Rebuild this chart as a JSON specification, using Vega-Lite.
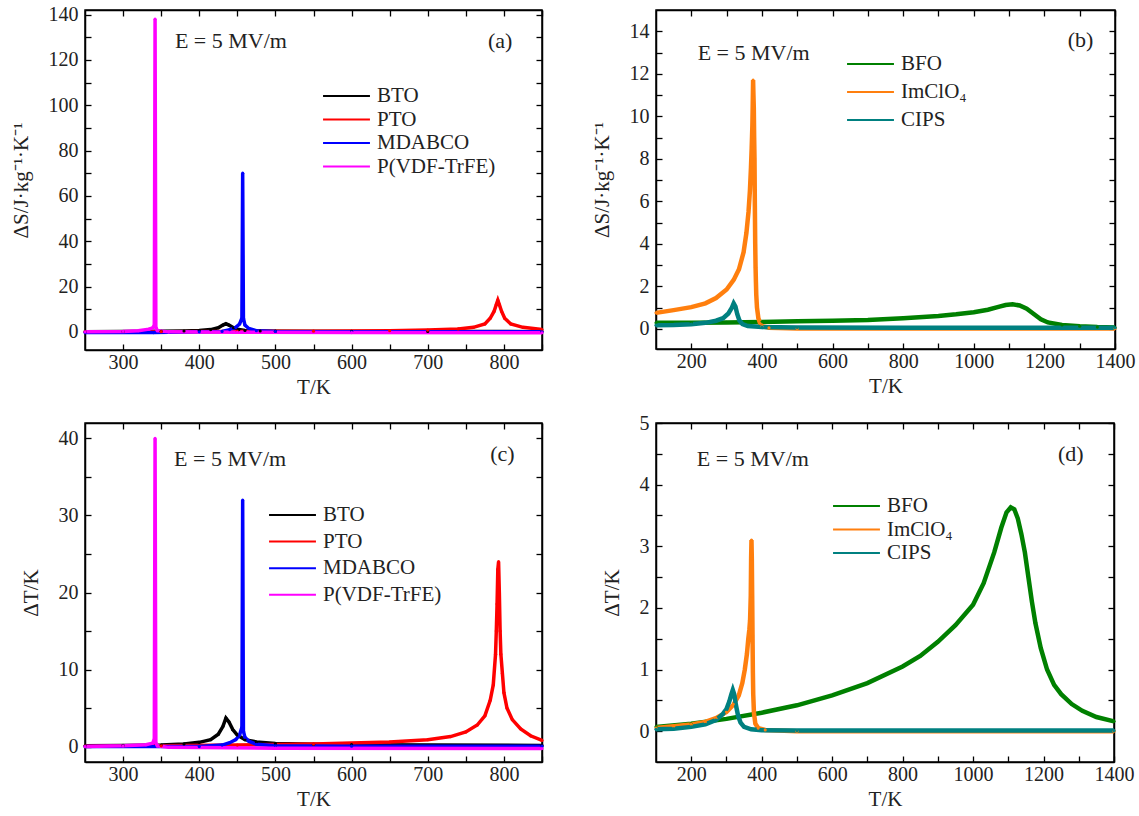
{
  "$schema": "https://vega.github.io/schema/vega-lite/v6.json",
  "padding": {"left": 9, "top": 3, "right": 5, "bottom": 5},
  "background": "white",
  "config": {
    "font": "Liberation Serif",
    "view": {"stroke": "black", "strokeWidth": 1.5},
    "axis": {
      "grid": false,
      "zindex": 1,
      "ticks": true,
      "domainColor": "black",
      "domainWidth": 1.5,
      "tickColor": "black",
      "tickWidth": 1.3,
      "tickSize": -6,
      "labelFont": "Liberation Serif",
      "labelFontSize": 20,
      "labelColor": "#222",
      "titleFont": "Liberation Serif",
      "titleFontSize": 21,
      "titleFontWeight": "normal",
      "titleColor": "#222",
      "labelFlush": false,
      "labelOverlap": false
    },
    "legend": {
      "labelFont": "Liberation Serif",
      "labelFontSize": 21,
      "labelColor": "#222",
      "symbolType": "stroke",
      "symbolStrokeWidth": 2,
      "symbolSize": 2200,
      "clipHeight": 20,
      "labelOffset": 6,
      "title": null
    },
    "text": {"font": "Liberation Serif", "fontSize": 22, "color": "#222"}
  },
  "datasets": {
    "a": [
      {"m": "BTO", "T": 250, "v": 0.1}, {"m": "BTO", "T": 300, "v": 0.15}, {"m": "BTO", "T": 350, "v": 0.25}, {"m": "BTO", "T": 380, "v": 0.4}, {"m": "BTO", "T": 400, "v": 0.6}, {"m": "BTO", "T": 415, "v": 1.0}, {"m": "BTO", "T": 425, "v": 1.8}, {"m": "BTO", "T": 431, "v": 3.0}, {"m": "BTO", "T": 435, "v": 3.6}, {"m": "BTO", "T": 439, "v": 3.0}, {"m": "BTO", "T": 445, "v": 1.8}, {"m": "BTO", "T": 452, "v": 1.0}, {"m": "BTO", "T": 460, "v": 0.6}, {"m": "BTO", "T": 480, "v": 0.4}, {"m": "BTO", "T": 500, "v": 0.3}, {"m": "BTO", "T": 600, "v": 0.2}, {"m": "BTO", "T": 700, "v": 0.15}, {"m": "BTO", "T": 850, "v": 0.1},
      {"m": "PTO", "T": 250, "v": 0.0}, {"m": "PTO", "T": 350, "v": 0.1}, {"m": "PTO", "T": 450, "v": 0.2}, {"m": "PTO", "T": 550, "v": 0.3}, {"m": "PTO", "T": 650, "v": 0.5}, {"m": "PTO", "T": 700, "v": 0.8}, {"m": "PTO", "T": 740, "v": 1.3}, {"m": "PTO", "T": 760, "v": 2.0}, {"m": "PTO", "T": 775, "v": 3.5}, {"m": "PTO", "T": 782, "v": 6}, {"m": "PTO", "T": 787, "v": 9}, {"m": "PTO", "T": 790, "v": 12}, {"m": "PTO", "T": 792, "v": 14}, {"m": "PTO", "T": 794, "v": 12}, {"m": "PTO", "T": 797, "v": 9}, {"m": "PTO", "T": 801, "v": 6}, {"m": "PTO", "T": 809, "v": 3.5}, {"m": "PTO", "T": 825, "v": 2}, {"m": "PTO", "T": 850, "v": 1},
      {"m": "MDABCO", "T": 250, "v": -0.3}, {"m": "MDABCO", "T": 340, "v": -0.3}, {"m": "MDABCO", "T": 400, "v": 0.0}, {"m": "MDABCO", "T": 430, "v": 0.2}, {"m": "MDABCO", "T": 440, "v": 1}, {"m": "MDABCO", "T": 448, "v": 2}, {"m": "MDABCO", "T": 453, "v": 3.5}, {"m": "MDABCO", "T": 456, "v": 6}, {"m": "MDABCO", "T": 457, "v": 70}, {"m": "MDABCO", "T": 458, "v": 6}, {"m": "MDABCO", "T": 460, "v": 3}, {"m": "MDABCO", "T": 465, "v": 1.5}, {"m": "MDABCO", "T": 475, "v": 0.5}, {"m": "MDABCO", "T": 500, "v": 0.2}, {"m": "MDABCO", "T": 600, "v": 0.05}, {"m": "MDABCO", "T": 850, "v": 0.0},
      {"m": "P(VDF-TrFE)", "T": 250, "v": 0.0}, {"m": "P(VDF-TrFE)", "T": 300, "v": 0.2}, {"m": "P(VDF-TrFE)", "T": 320, "v": 0.5}, {"m": "P(VDF-TrFE)", "T": 334, "v": 1.2}, {"m": "P(VDF-TrFE)", "T": 339, "v": 1.8}, {"m": "P(VDF-TrFE)", "T": 341, "v": 3}, {"m": "P(VDF-TrFE)", "T": 342, "v": 138}, {"m": "P(VDF-TrFE)", "T": 343, "v": 2}, {"m": "P(VDF-TrFE)", "T": 345, "v": 0.5}, {"m": "P(VDF-TrFE)", "T": 360, "v": 0.0}, {"m": "P(VDF-TrFE)", "T": 450, "v": -0.2}, {"m": "P(VDF-TrFE)", "T": 600, "v": -0.3}, {"m": "P(VDF-TrFE)", "T": 850, "v": -0.4}
    ],
    "al": [
      {"T": 368, "v": 128.3, "txt": "E = 5  MV/m"},
      {"T": 779, "v": 128.3, "txt": "(a)"}
    ],
    "b": [
      {"m": "BFO", "T": 100, "v": 0.28}, {"m": "BFO", "T": 200, "v": 0.29}, {"m": "BFO", "T": 300, "v": 0.3}, {"m": "BFO", "T": 400, "v": 0.32}, {"m": "BFO", "T": 500, "v": 0.35}, {"m": "BFO", "T": 600, "v": 0.38}, {"m": "BFO", "T": 700, "v": 0.42}, {"m": "BFO", "T": 800, "v": 0.5}, {"m": "BFO", "T": 900, "v": 0.6}, {"m": "BFO", "T": 950, "v": 0.68}, {"m": "BFO", "T": 1000, "v": 0.78}, {"m": "BFO", "T": 1040, "v": 0.9}, {"m": "BFO", "T": 1070, "v": 1.03}, {"m": "BFO", "T": 1090, "v": 1.12}, {"m": "BFO", "T": 1110, "v": 1.15}, {"m": "BFO", "T": 1130, "v": 1.1}, {"m": "BFO", "T": 1150, "v": 0.95}, {"m": "BFO", "T": 1170, "v": 0.7}, {"m": "BFO", "T": 1190, "v": 0.45}, {"m": "BFO", "T": 1210, "v": 0.3}, {"m": "BFO", "T": 1250, "v": 0.18}, {"m": "BFO", "T": 1300, "v": 0.12}, {"m": "BFO", "T": 1350, "v": 0.08}, {"m": "BFO", "T": 1400, "v": 0.06},
      {"m": "ImClO₄", "T": 100, "v": 0.75}, {"m": "ImClO₄", "T": 150, "v": 0.88}, {"m": "ImClO₄", "T": 200, "v": 1.02}, {"m": "ImClO₄", "T": 240, "v": 1.2}, {"m": "ImClO₄", "T": 270, "v": 1.45}, {"m": "ImClO₄", "T": 300, "v": 1.85}, {"m": "ImClO₄", "T": 320, "v": 2.3}, {"m": "ImClO₄", "T": 335, "v": 2.8}, {"m": "ImClO₄", "T": 348, "v": 3.6}, {"m": "ImClO₄", "T": 356, "v": 4.5}, {"m": "ImClO₄", "T": 362, "v": 5.5}, {"m": "ImClO₄", "T": 366, "v": 6.5}, {"m": "ImClO₄", "T": 369, "v": 7.6}, {"m": "ImClO₄", "T": 371, "v": 8.5}, {"m": "ImClO₄", "T": 373, "v": 9.6}, {"m": "ImClO₄", "T": 374, "v": 10.6}, {"m": "ImClO₄", "T": 375, "v": 11.7}, {"m": "ImClO₄", "T": 376, "v": 11.0}, {"m": "ImClO₄", "T": 377, "v": 10.4}, {"m": "ImClO₄", "T": 378, "v": 9.0}, {"m": "ImClO₄", "T": 379, "v": 8.0}, {"m": "ImClO₄", "T": 380, "v": 5.8}, {"m": "ImClO₄", "T": 381, "v": 4.0}, {"m": "ImClO₄", "T": 382, "v": 2.9}, {"m": "ImClO₄", "T": 383, "v": 2.2}, {"m": "ImClO₄", "T": 384, "v": 1.6}, {"m": "ImClO₄", "T": 386, "v": 1.0}, {"m": "ImClO₄", "T": 390, "v": 0.5}, {"m": "ImClO₄", "T": 395, "v": 0.25}, {"m": "ImClO₄", "T": 400, "v": 0.12}, {"m": "ImClO₄", "T": 420, "v": 0.05}, {"m": "ImClO₄", "T": 500, "v": 0.02}, {"m": "ImClO₄", "T": 1400, "v": 0.01},
      {"m": "CIPS", "T": 100, "v": 0.17}, {"m": "CIPS", "T": 150, "v": 0.18}, {"m": "CIPS", "T": 200, "v": 0.22}, {"m": "CIPS", "T": 240, "v": 0.28}, {"m": "CIPS", "T": 270, "v": 0.38}, {"m": "CIPS", "T": 290, "v": 0.5}, {"m": "CIPS", "T": 305, "v": 0.72}, {"m": "CIPS", "T": 315, "v": 1.0}, {"m": "CIPS", "T": 320, "v": 1.2}, {"m": "CIPS", "T": 325, "v": 1.05}, {"m": "CIPS", "T": 330, "v": 0.7}, {"m": "CIPS", "T": 336, "v": 0.4}, {"m": "CIPS", "T": 345, "v": 0.22}, {"m": "CIPS", "T": 360, "v": 0.13}, {"m": "CIPS", "T": 400, "v": 0.08}, {"m": "CIPS", "T": 500, "v": 0.06}, {"m": "CIPS", "T": 800, "v": 0.05}, {"m": "CIPS", "T": 1400, "v": 0.05}
    ],
    "bl": [
      {"T": 218, "v": 13.0, "txt": "E = 5  MV/m"},
      {"T": 1266, "v": 13.6, "txt": "(b)"}
    ],
    "c": [
      {"m": "BTO", "T": 250, "v": 0.1}, {"m": "BTO", "T": 300, "v": 0.15}, {"m": "BTO", "T": 350, "v": 0.2}, {"m": "BTO", "T": 380, "v": 0.35}, {"m": "BTO", "T": 400, "v": 0.55}, {"m": "BTO", "T": 415, "v": 0.9}, {"m": "BTO", "T": 425, "v": 1.6}, {"m": "BTO", "T": 431, "v": 2.6}, {"m": "BTO", "T": 435, "v": 3.7}, {"m": "BTO", "T": 439, "v": 3.2}, {"m": "BTO", "T": 444, "v": 2.2}, {"m": "BTO", "T": 450, "v": 1.5}, {"m": "BTO", "T": 460, "v": 0.9}, {"m": "BTO", "T": 475, "v": 0.6}, {"m": "BTO", "T": 500, "v": 0.4}, {"m": "BTO", "T": 550, "v": 0.3}, {"m": "BTO", "T": 600, "v": 0.25}, {"m": "BTO", "T": 850, "v": 0.15},
      {"m": "PTO", "T": 250, "v": 0.05}, {"m": "PTO", "T": 350, "v": 0.1}, {"m": "PTO", "T": 450, "v": 0.2}, {"m": "PTO", "T": 550, "v": 0.35}, {"m": "PTO", "T": 650, "v": 0.6}, {"m": "PTO", "T": 700, "v": 0.9}, {"m": "PTO", "T": 730, "v": 1.3}, {"m": "PTO", "T": 750, "v": 1.9}, {"m": "PTO", "T": 765, "v": 2.8}, {"m": "PTO", "T": 775, "v": 4}, {"m": "PTO", "T": 782, "v": 6}, {"m": "PTO", "T": 786, "v": 8}, {"m": "PTO", "T": 789, "v": 12}, {"m": "PTO", "T": 790, "v": 15}, {"m": "PTO", "T": 791, "v": 18.5}, {"m": "PTO", "T": 792, "v": 23}, {"m": "PTO", "T": 793, "v": 24}, {"m": "PTO", "T": 794, "v": 20}, {"m": "PTO", "T": 795, "v": 15}, {"m": "PTO", "T": 796, "v": 12}, {"m": "PTO", "T": 798, "v": 9.5}, {"m": "PTO", "T": 800, "v": 7}, {"m": "PTO", "T": 804, "v": 5}, {"m": "PTO", "T": 811, "v": 3.5}, {"m": "PTO", "T": 822, "v": 2.3}, {"m": "PTO", "T": 835, "v": 1.4}, {"m": "PTO", "T": 850, "v": 0.8},
      {"m": "MDABCO", "T": 250, "v": 0.0}, {"m": "MDABCO", "T": 400, "v": 0.0}, {"m": "MDABCO", "T": 430, "v": 0.2}, {"m": "MDABCO", "T": 440, "v": 0.5}, {"m": "MDABCO", "T": 448, "v": 0.9}, {"m": "MDABCO", "T": 453, "v": 1.5}, {"m": "MDABCO", "T": 456, "v": 2.5}, {"m": "MDABCO", "T": 457, "v": 32}, {"m": "MDABCO", "T": 458, "v": 2.0}, {"m": "MDABCO", "T": 460, "v": 1.2}, {"m": "MDABCO", "T": 465, "v": 0.7}, {"m": "MDABCO", "T": 475, "v": 0.3}, {"m": "MDABCO", "T": 500, "v": 0.1}, {"m": "MDABCO", "T": 600, "v": 0.05}, {"m": "MDABCO", "T": 850, "v": 0.05},
      {"m": "P(VDF-TrFE)", "T": 250, "v": 0.0}, {"m": "P(VDF-TrFE)", "T": 300, "v": 0.1}, {"m": "P(VDF-TrFE)", "T": 330, "v": 0.25}, {"m": "P(VDF-TrFE)", "T": 339, "v": 0.45}, {"m": "P(VDF-TrFE)", "T": 341, "v": 1}, {"m": "P(VDF-TrFE)", "T": 342, "v": 40}, {"m": "P(VDF-TrFE)", "T": 343, "v": 0.5}, {"m": "P(VDF-TrFE)", "T": 345, "v": 0.1}, {"m": "P(VDF-TrFE)", "T": 360, "v": -0.1}, {"m": "P(VDF-TrFE)", "T": 500, "v": -0.2}, {"m": "P(VDF-TrFE)", "T": 850, "v": -0.25}
    ],
    "cl": [
      {"T": 367, "v": 37.3, "txt": "E = 5  MV/m"},
      {"T": 782, "v": 38.0, "txt": "(c)"}
    ],
    "d": [
      {"m": "BFO", "T": 100, "v": 0.07}, {"m": "BFO", "T": 200, "v": 0.12}, {"m": "BFO", "T": 300, "v": 0.2}, {"m": "BFO", "T": 400, "v": 0.3}, {"m": "BFO", "T": 500, "v": 0.42}, {"m": "BFO", "T": 600, "v": 0.58}, {"m": "BFO", "T": 700, "v": 0.78}, {"m": "BFO", "T": 800, "v": 1.05}, {"m": "BFO", "T": 850, "v": 1.22}, {"m": "BFO", "T": 900, "v": 1.45}, {"m": "BFO", "T": 950, "v": 1.72}, {"m": "BFO", "T": 1000, "v": 2.05}, {"m": "BFO", "T": 1030, "v": 2.4}, {"m": "BFO", "T": 1060, "v": 2.9}, {"m": "BFO", "T": 1080, "v": 3.3}, {"m": "BFO", "T": 1095, "v": 3.55}, {"m": "BFO", "T": 1107, "v": 3.63}, {"m": "BFO", "T": 1117, "v": 3.6}, {"m": "BFO", "T": 1127, "v": 3.45}, {"m": "BFO", "T": 1137, "v": 3.2}, {"m": "BFO", "T": 1147, "v": 2.9}, {"m": "BFO", "T": 1157, "v": 2.5}, {"m": "BFO", "T": 1167, "v": 2.1}, {"m": "BFO", "T": 1177, "v": 1.75}, {"m": "BFO", "T": 1192, "v": 1.35}, {"m": "BFO", "T": 1210, "v": 1.0}, {"m": "BFO", "T": 1230, "v": 0.75}, {"m": "BFO", "T": 1250, "v": 0.6}, {"m": "BFO", "T": 1280, "v": 0.44}, {"m": "BFO", "T": 1310, "v": 0.33}, {"m": "BFO", "T": 1350, "v": 0.23}, {"m": "BFO", "T": 1400, "v": 0.16},
      {"m": "ImClO₄", "T": 100, "v": 0.05}, {"m": "ImClO₄", "T": 150, "v": 0.08}, {"m": "ImClO₄", "T": 200, "v": 0.11}, {"m": "ImClO₄", "T": 240, "v": 0.15}, {"m": "ImClO₄", "T": 270, "v": 0.21}, {"m": "ImClO₄", "T": 300, "v": 0.31}, {"m": "ImClO₄", "T": 320, "v": 0.43}, {"m": "ImClO₄", "T": 335, "v": 0.58}, {"m": "ImClO₄", "T": 345, "v": 0.78}, {"m": "ImClO₄", "T": 352, "v": 1.0}, {"m": "ImClO₄", "T": 358, "v": 1.25}, {"m": "ImClO₄", "T": 362, "v": 1.5}, {"m": "ImClO₄", "T": 365, "v": 1.65}, {"m": "ImClO₄", "T": 367, "v": 1.8}, {"m": "ImClO₄", "T": 369, "v": 2.2}, {"m": "ImClO₄", "T": 370, "v": 2.8}, {"m": "ImClO₄", "T": 371, "v": 3.1}, {"m": "ImClO₄", "T": 372, "v": 2.8}, {"m": "ImClO₄", "T": 373, "v": 2.2}, {"m": "ImClO₄", "T": 374, "v": 1.55}, {"m": "ImClO₄", "T": 375, "v": 0.95}, {"m": "ImClO₄", "T": 376, "v": 0.6}, {"m": "ImClO₄", "T": 378, "v": 0.3}, {"m": "ImClO₄", "T": 382, "v": 0.12}, {"m": "ImClO₄", "T": 390, "v": 0.05}, {"m": "ImClO₄", "T": 410, "v": 0.02}, {"m": "ImClO₄", "T": 500, "v": 0.0}, {"m": "ImClO₄", "T": 1400, "v": 0.0},
      {"m": "CIPS", "T": 100, "v": 0.03}, {"m": "CIPS", "T": 150, "v": 0.04}, {"m": "CIPS", "T": 200, "v": 0.07}, {"m": "CIPS", "T": 240, "v": 0.11}, {"m": "CIPS", "T": 270, "v": 0.18}, {"m": "CIPS", "T": 290, "v": 0.28}, {"m": "CIPS", "T": 300, "v": 0.36}, {"m": "CIPS", "T": 308, "v": 0.48}, {"m": "CIPS", "T": 314, "v": 0.6}, {"m": "CIPS", "T": 318, "v": 0.67}, {"m": "CIPS", "T": 322, "v": 0.6}, {"m": "CIPS", "T": 327, "v": 0.42}, {"m": "CIPS", "T": 333, "v": 0.25}, {"m": "CIPS", "T": 340, "v": 0.14}, {"m": "CIPS", "T": 350, "v": 0.07}, {"m": "CIPS", "T": 370, "v": 0.03}, {"m": "CIPS", "T": 400, "v": 0.015}, {"m": "CIPS", "T": 500, "v": 0.01}, {"m": "CIPS", "T": 1400, "v": 0.01}
    ],
    "dl": [
      {"T": 216, "v": 4.42, "txt": "E = 5  MV/m"},
      {"T": 1241, "v": 4.5, "txt": "(d)"}
    ]
  },
  "columns": 2,
  "bounds": "flush",
  "spacing": {"row": 73, "column": 114},
  "resolve": {"scale": {"color": "independent", "x": "independent", "y": "independent"}, "legend": {"color": "independent"}},
  "concat": [
    {
      "width": 457, "height": 340,
      "layer": [
        {
          "data": {"name": "a"},
          "mark": {"type": "line", "strokeWidth": 3.5, "point": {"filled": true, "size": 10}},
          "encoding": {
            "x": {"field": "T", "type": "quantitative", "scale": {"domain": [250, 850], "nice": false, "zero": false},
              "axis": {"title": "T/K", "orient": "bottom", "values": [300, 350, 400, 450, 500, 550, 600, 650, 700, 750, 800, 850],
                "labelExpr": "datum.value % 100 === 0 ? datum.value : ''", "labelPadding": 8, "titlePadding": 4}},
            "y": {"field": "v", "type": "quantitative", "scale": {"domain": [-8, 142], "nice": false, "zero": false},
              "axis": {"title": "ΔS/J·kg⁻¹·K⁻¹", "orient": "left", "values": [0, 10, 20, 30, 40, 50, 60, 70, 80, 90, 100, 110, 120, 130, 140],
                "labelExpr": "datum.value % 20 === 0 ? datum.value : ''", "labelPadding": 13, "titlePadding": 17}},
            "color": {"field": "m", "type": "nominal",
              "scale": {"domain": ["BTO", "PTO", "MDABCO", "P(VDF-TrFE)"], "range": ["#000000", "#ff0000", "#0000ff", "#ff00ff"]},
              "legend": {"orient": "none", "legendX": 237, "legendY": 76, "rowPadding": 2.5}}
          }
        },
        {
          "data": {"name": "al"},
          "mark": {"type": "text", "align": "left", "baseline": "middle"},
          "encoding": {
            "x": {"field": "T", "type": "quantitative", "axis": {"orient": "top", "title": null, "labels": false, "values": [300, 350, 400, 450, 500, 550, 600, 650, 700, 750, 800, 850]}},
            "y": {"field": "v", "type": "quantitative", "axis": {"orient": "right", "title": null, "labels": false, "values": [0, 10, 20, 30, 40, 50, 60, 70, 80, 90, 100, 110, 120, 130, 140]}},
            "text": {"field": "txt"}
          }
        }
      ],
      "resolve": {"axis": {"x": "independent", "y": "independent"}}
    },
    {
      "width": 459, "height": 339,
      "layer": [
        {
          "data": {"name": "b"},
          "mark": {"type": "line", "strokeWidth": 4.5, "point": {"filled": true, "size": 10}},
          "encoding": {
            "x": {"field": "T", "type": "quantitative", "scale": {"domain": [100, 1400], "nice": false, "zero": false},
              "axis": {"title": "T/K", "orient": "bottom", "values": [200, 300, 400, 500, 600, 700, 800, 900, 1000, 1100, 1200, 1300, 1400],
                "labelExpr": "datum.value % 200 === 0 ? datum.value : ''", "labelPadding": 8, "titlePadding": 4}},
            "y": {"field": "v", "type": "quantitative", "scale": {"domain": [-0.95, 15], "nice": false, "zero": false},
              "axis": {"title": "ΔS/J·kg⁻¹·K⁻¹", "orient": "left", "values": [0, 1, 2, 3, 4, 5, 6, 7, 8, 9, 10, 11, 12, 13, 14],
                "labelExpr": "datum.value % 2 === 0 ? datum.value : ''", "labelPadding": 13, "titlePadding": 17}},
            "color": {"field": "m", "type": "nominal",
              "scale": {"domain": ["BFO", "ImClO₄", "CIPS"], "range": ["#008000", "#ff7f0e", "#008080"]},
              "legend": {"orient": "none", "legendX": 190, "legendY": 44, "rowPadding": 7}}
          }
        },
        {
          "data": {"name": "bl"},
          "mark": {"type": "text", "align": "left", "baseline": "middle"},
          "encoding": {
            "x": {"field": "T", "type": "quantitative", "axis": {"orient": "top", "title": null, "labels": false, "values": [200, 300, 400, 500, 600, 700, 800, 900, 1000, 1100, 1200, 1300, 1400]}},
            "y": {"field": "v", "type": "quantitative", "axis": {"orient": "right", "title": null, "labels": false, "values": [0, 1, 2, 3, 4, 5, 6, 7, 8, 9, 10, 11, 12, 13, 14]}},
            "text": {"field": "txt"}
          }
        }
      ],
      "resolve": {"axis": {"x": "independent", "y": "independent"}}
    },
    {
      "width": 457, "height": 339,
      "layer": [
        {
          "data": {"name": "c"},
          "mark": {"type": "line", "strokeWidth": 3.5, "point": {"filled": true, "size": 10}},
          "encoding": {
            "x": {"field": "T", "type": "quantitative", "scale": {"domain": [250, 850], "nice": false, "zero": false},
              "axis": {"title": "T/K", "orient": "bottom", "values": [300, 350, 400, 450, 500, 550, 600, 650, 700, 750, 800, 850],
                "labelExpr": "datum.value % 100 === 0 ? datum.value : ''", "labelPadding": 8, "titlePadding": 4}},
            "y": {"field": "v", "type": "quantitative", "scale": {"domain": [-2, 42], "nice": false, "zero": false},
              "axis": {"title": "ΔT/K", "orient": "left", "values": [0, 5, 10, 15, 20, 25, 30, 35, 40],
                "labelExpr": "datum.value % 10 === 0 ? datum.value : ''", "labelPadding": 13, "titlePadding": 17}},
            "color": {"field": "m", "type": "nominal",
              "scale": {"domain": ["BTO", "PTO", "MDABCO", "P(VDF-TrFE)"], "range": ["#000000", "#ff0000", "#0000ff", "#ff00ff"]},
              "legend": {"orient": "none", "legendX": 183, "legendY": 82, "rowPadding": 5.6}}
          }
        },
        {
          "data": {"name": "cl"},
          "mark": {"type": "text", "align": "left", "baseline": "middle"},
          "encoding": {
            "x": {"field": "T", "type": "quantitative", "axis": {"orient": "top", "title": null, "labels": false, "values": [300, 350, 400, 450, 500, 550, 600, 650, 700, 750, 800, 850]}},
            "y": {"field": "v", "type": "quantitative", "axis": {"orient": "right", "title": null, "labels": false, "values": [0, 5, 10, 15, 20, 25, 30, 35, 40]}},
            "text": {"field": "txt"}
          }
        }
      ],
      "resolve": {"axis": {"x": "independent", "y": "independent"}}
    },
    {
      "width": 458, "height": 339,
      "layer": [
        {
          "data": {"name": "d"},
          "mark": {"type": "line", "strokeWidth": 4.5, "point": {"filled": true, "size": 10}},
          "encoding": {
            "x": {"field": "T", "type": "quantitative", "scale": {"domain": [100, 1400], "nice": false, "zero": false},
              "axis": {"title": "T/K", "orient": "bottom", "values": [200, 300, 400, 500, 600, 700, 800, 900, 1000, 1100, 1200, 1300, 1400],
                "labelExpr": "datum.value % 200 === 0 ? datum.value : ''", "labelPadding": 8, "titlePadding": 4}},
            "y": {"field": "v", "type": "quantitative", "scale": {"domain": [-0.5, 5], "nice": false, "zero": false},
              "axis": {"title": "ΔT/K", "orient": "left", "values": [0, 0.5, 1, 1.5, 2, 2.5, 3, 3.5, 4, 4.5, 5],
                "labelExpr": "datum.value % 1 === 0 ? datum.value : ''", "labelPadding": 13, "titlePadding": 17}},
            "color": {"field": "m", "type": "nominal",
              "scale": {"domain": ["BFO", "ImClO₄", "CIPS"], "range": ["#008000", "#ff7f0e", "#008080"]},
              "legend": {"orient": "none", "legendX": 176, "legendY": 73, "rowPadding": 2.5}}
          }
        },
        {
          "data": {"name": "dl"},
          "mark": {"type": "text", "align": "left", "baseline": "middle"},
          "encoding": {
            "x": {"field": "T", "type": "quantitative", "axis": {"orient": "top", "title": null, "labels": false, "values": [200, 300, 400, 500, 600, 700, 800, 900, 1000, 1100, 1200, 1300, 1400]}},
            "y": {"field": "v", "type": "quantitative", "axis": {"orient": "right", "title": null, "labels": false, "values": [0, 0.5, 1, 1.5, 2, 2.5, 3, 3.5, 4, 4.5, 5]}},
            "text": {"field": "txt"}
          }
        }
      ],
      "resolve": {"axis": {"x": "independent", "y": "independent"}}
    }
  ]
}
